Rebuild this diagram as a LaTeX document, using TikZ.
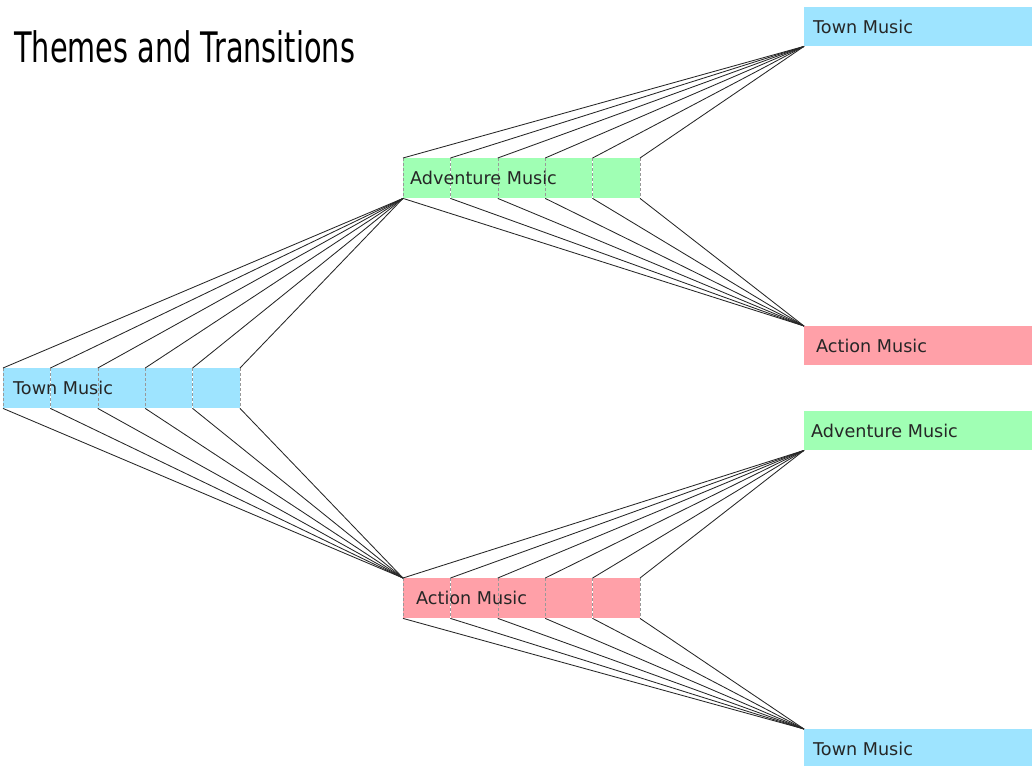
\documentclass[tikz,border=0pt]{standalone}
\usepackage{fontspec}
\setmainfont{DejaVu Sans}
\newfontfamily\titlefont[FakeStretch=0.685]{DejaVu Sans}
\usetikzlibrary{positioning}
\definecolor{townblue}{RGB}{158,228,255}
\definecolor{adventuregreen}{RGB}{160,255,180}
\definecolor{actionred}{RGB}{255,160,168}

\begin{document}
\begin{tikzpicture}[x=1pt, y=-1pt,
    cell/.style={rectangle, inner sep=0pt, minimum width=47pt, minimum height=40pt, anchor=north west},
    slot/.style={rectangle, inner sep=0pt, minimum width=228pt, minimum height=39pt, anchor=north west},
    divider/.style={gray!80, dash pattern=on 3pt off 2pt, line width=0.6pt},
    link/.style={black!85, line width=0.85pt},
    label/.style={font=\fontsize{17.6}{20}\selectfont, text=black!85, inner sep=0pt, anchor=west}]
    \useasboundingbox (0,0) rectangle (1032,765);

    % Title
    \node[anchor=base west, inner sep=0pt, font=\titlefont\fontsize{42}{50}\selectfont] (title) at (14,63) {Themes and Transitions};

    % Target themes on the right
    \node[slot, fill=townblue] (townA) at (804,7) {};
    \node[slot, fill=actionred] (actionA) at (804,326) {};
    \node[slot, fill=adventuregreen] (adventureB) at (804,411) {};
    \node[slot, fill=townblue] (townB) at (804,729) {};

    % Rows of transition cells
    \node[cell, fill=townblue] (town1) at (3,368) {};
    \node[cell, fill=adventuregreen] (adv1) at (403,158) {};
    \node[cell, fill=actionred] (act1) at (403,578) {};
    \foreach \i [remember=\i as \prev (initially 1)] in {2,...,5} {
        \node[cell, fill=townblue, right=0pt of town\prev] (town\i) {};
        \node[cell, fill=adventuregreen, right=0pt of adv\prev] (adv\i) {};
        \node[cell, fill=actionred, right=0pt of act\prev] (act\i) {};
    }

    % Dividers
    \foreach \r in {town,adv,act} {
        \foreach \i in {1,...,5}
            \draw[divider] (\r\i.north west) -- (\r\i.south west);
        \draw[divider] (\r5.north east) -- (\r5.south east);
    }

    % Transitions
    \foreach \i in {1,...,5} {
        \draw[link] (town\i.north west) -- (adv1.south west);
        \draw[link] (town\i.south west) -- (act1.north west);
        \draw[link] (adv\i.north west) -- (townA.south west);
        \draw[link] (adv\i.south west) -- (actionA.north west);
        \draw[link] (act\i.north west) -- (adventureB.south west);
        \draw[link] (act\i.south west) -- (townB.north west);
    }
    \draw[link] (town5.north east) -- (adv1.south west);
    \draw[link] (town5.south east) -- (act1.north west);
    \draw[link] (adv5.north east) -- (townA.south west);
    \draw[link] (adv5.south east) -- (actionA.north west);
    \draw[link] (act5.north east) -- (adventureB.south west);
    \draw[link] (act5.south east) -- (townB.north west);

    % Labels
    \node[label, right=10pt of town1.west] (townlabel) {Town Music};
    \node[label, right=7pt of adv1.west] (advlabel) {Adventure Music};
    \node[label, right=13pt of act1.west] (actlabel) {Action Music};
    \node[label, right=9pt of townA.west] (townAlabel) {Town Music};
    \node[label, right=12pt of actionA.west] (actionAlabel) {Action Music};
    \node[label, right=7pt of adventureB.west] (adventureBlabel) {Adventure Music};
    \node[label, right=9pt of townB.west] (townBlabel) {Town Music};
\end{tikzpicture}
\end{document}
